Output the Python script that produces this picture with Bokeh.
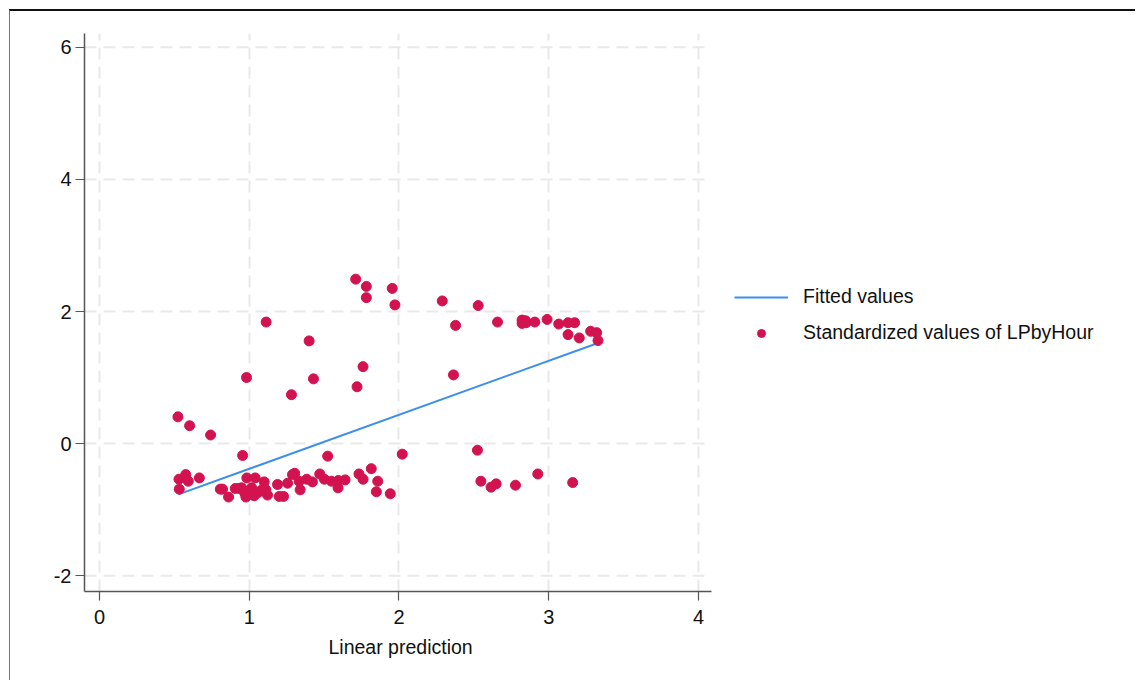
from bokeh.plotting import figure
from bokeh.models import Legend, LegendItem, FixedTicker, ColumnDataSource, Title
from bokeh.embed import file_html
from bokeh.resources import INLINE

# Standardized LPbyHour against the linear prediction
lin_pred = [
    1.711, 1.782, 1.782, 1.955, 1.973, 2.289, 2.378, 1.113, 1.400, 0.982,
    1.429, 1.760, 1.720, 1.282, 2.364, 0.524, 0.602, 0.742, 0.956, 1.524,
    2.022,
    2.529, 2.658, 2.822, 2.845, 2.822, 2.849, 2.907, 2.989, 3.067, 3.129,
    3.173, 3.129, 3.204, 3.280, 3.320, 3.329,
    2.524, 2.547, 2.615, 2.649, 2.778, 2.927, 3.160,
    0.531, 0.576, 0.593, 0.667, 0.533, 0.807, 0.822, 0.862, 0.907, 0.933,
    0.949, 0.984, 0.989, 0.978, 1.016, 1.040, 1.033, 1.000, 0.970, 1.060,
    1.100, 1.078, 1.111, 1.122, 1.189, 1.200, 1.229, 1.256, 1.289, 1.304,
    1.333, 1.340, 1.384, 1.422, 1.471, 1.502, 1.549, 1.593, 1.595, 1.640,
    1.733, 1.760, 1.815, 1.858, 1.849, 1.942,
]
std_lpbyhour = [
    2.49, 2.38, 2.21, 2.35, 2.10, 2.16, 1.79, 1.84, 1.555, 1.00,
    0.98, 1.165, 0.86, 0.74, 1.04, 0.405, 0.27, 0.13, -0.18, -0.19,
    -0.16,
    2.09, 1.84, 1.87, 1.86, 1.82, 1.83, 1.84, 1.88, 1.81, 1.83,
    1.83, 1.65, 1.60, 1.70, 1.68, 1.56,
    -0.10, -0.57, -0.66, -0.61, -0.63, -0.46, -0.59,
    -0.54, -0.47, -0.57, -0.52, -0.69, -0.69, -0.69, -0.81, -0.68, -0.68,
    -0.67, -0.52, -0.73, -0.81, -0.67, -0.52, -0.79, -0.76, -0.75, -0.74,
    -0.58, -0.71, -0.70, -0.78, -0.62, -0.80, -0.80, -0.60, -0.47, -0.45,
    -0.57, -0.70, -0.54, -0.58, -0.46, -0.54, -0.57, -0.67, -0.56, -0.55,
    -0.46, -0.54, -0.38, -0.57, -0.73, -0.76,
]

# Fitted regression line, evaluated at the ends of the prediction range
fit_x = [0.527, 3.325]
fit_y = [-0.77, 1.52]

x_ticks = [0, 1, 2, 3, 4]
y_ticks = [-2, 0, 2, 4, 6]

# Plot region in data units; the drawing area itself runs further right
# so the legend can sit beside the axes.
X_LO, X_HI = -0.1, 4.087
Y_LO, Y_HI = -2.24, 6.21
PX_PER_X = 149.75

FONT = "Liberation Sans"
DOT = "#d3134f"
LINE = "#3d8fea"
GRID = "#e9e9e9"

W, H = 1126, 671
LEFT, TOP, BOTTOM = 74, 22, 91
frame_w = W - LEFT

p = figure(
    width=W, height=H,
    x_range=(X_LO, X_LO + frame_w / PX_PER_X), y_range=(Y_LO, Y_HI),
    output_backend="svg", toolbar_location=None,
    min_border_left=LEFT, min_border_right=0,
    min_border_top=TOP, min_border_bottom=BOTTOM,
)
p.styles = {
    "margin-left": "9px", "margin-top": "9px",
    "border-top": "2px solid #111111", "border-left": "1px solid #777777",
}
p.outline_line_color = None
p.background_fill_color = "white"
p.border_fill_color = "white"

# horizontal grid lines limited to the plot region
p.ygrid.visible = False
p.segment(
    x0=[X_LO] * len(y_ticks), x1=[X_HI] * len(y_ticks), y0=y_ticks, y1=y_ticks,
    line_color=GRID, line_width=2, line_dash="12 7", level="underlay",
)
p.xgrid.ticker = FixedTicker(ticks=x_ticks)
p.xgrid.grid_line_color = GRID
p.xgrid.grid_line_width = 2
p.xgrid.grid_line_dash = "12 7"

fit = p.line(fit_x, fit_y, line_color=LINE, line_width=2)
pts = p.scatter(
    source=ColumnDataSource(dict(x=lin_pred, y=std_lpbyhour)),
    x="x", y="y", size=10, fill_color=DOT, line_color=DOT,
)

for ax in (p.xaxis[0], p.yaxis[0]):
    ax.axis_line_color = "#555555"
    ax.axis_line_width = 1.5
    ax.major_tick_line_color = "#555555"
    ax.major_tick_line_width = 1.2
    ax.major_tick_out = 9
    ax.major_tick_in = 0
    ax.minor_tick_line_color = None
    ax.major_label_text_font = FONT
    ax.major_label_text_font_size = "20px"
    ax.major_label_text_color = "#111111"

p.xaxis.bounds = (X_LO, X_HI)
p.xaxis.ticker = FixedTicker(ticks=x_ticks)
p.yaxis.ticker = FixedTicker(ticks=y_ticks)
p.yaxis.major_label_overrides = {t: str(t) for t in y_ticks}
p.xaxis.major_label_standoff = 9
p.yaxis.major_label_standoff = 4

# x-axis title, placed under the middle of the bounded axis
xtitle = Title(
    text="Linear prediction", align="left",
    text_font=FONT, text_font_size="19.5px", text_font_style="normal",
    text_color="#111111", standoff=15, offset=244,
)
p.add_layout(xtitle, "below")

legend = Legend(
    items=[
        LegendItem(label="Fitted values", renderers=[fit]),
        LegendItem(label="Standardized values of LPbyHour", renderers=[pts]),
    ],
    location=(650, 247),
    orientation="vertical",
    padding=0, margin=0, spacing=13,
    glyph_width=54, glyph_height=20, label_height=20, label_standoff=15,
    label_text_font=FONT, label_text_font_size="19.5px", label_text_color="#111111",
    border_line_color=None, background_fill_alpha=0,
)
p.add_layout(legend, "center")

open("out.html", "w").write(file_html(p, INLINE))
